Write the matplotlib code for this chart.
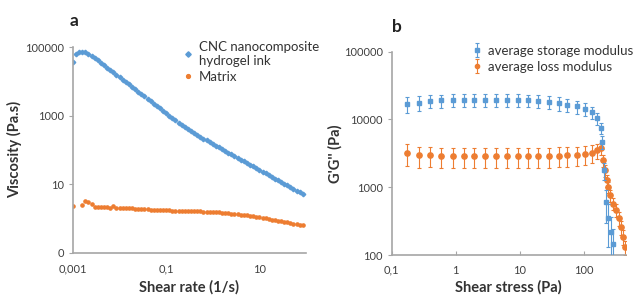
import numpy as np
import matplotlib
matplotlib.use("Agg")
import matplotlib.pyplot as plt
from matplotlib.ticker import FixedLocator, FixedFormatter, NullLocator

plt.rcParams['font.family'] = ['Lato', 'DejaVu Sans']

# ---------------- Panel a data ----------------
shear_rate = [
    0.001, 0.00117, 0.00136, 0.00158, 0.00185, 0.00215, 0.00251, 0.00293, 0.00341, 0.00398,
    0.00464, 0.00541, 0.00631, 0.00736, 0.00858,
    0.01, 0.0117, 0.0136, 0.0158, 0.0185, 0.0215, 0.0251, 0.0293, 0.0341, 0.0398,
    0.0464, 0.0541, 0.0631, 0.0736, 0.0858,
    0.1, 0.117, 0.136, 0.158, 0.185, 0.215, 0.251, 0.293, 0.341, 0.398,
    0.464, 0.541, 0.631, 0.736, 0.858,
    1.0, 1.17, 1.36, 1.58, 1.85, 2.15, 2.51, 2.93, 3.41, 3.98,
    4.64, 5.41, 6.31, 7.36, 8.58,
    10.0, 11.7, 13.6, 15.8, 18.5, 21.5, 25.1, 29.3, 34.1, 39.8,
    46.4, 54.1, 63.1, 73.6, 85.8,
]
visc_cnc = [
    36500, 64000, 71500, 73000, 70000, 64000, 56200, 47900, 40800, 34700,
    29500, 25200, 21400, 18200, 15500,
    13200, 11200, 9570, 8130, 6920, 5900, 5010, 4270, 3640, 3090,
    2630, 2240, 1910, 1620, 1380,
    1180, 1000, 851, 728, 625, 538, 466, 405, 352, 308,
    270, 238, 211, 188, 167,
    149, 132, 118, 105, 93.5, 83.4, 74.1, 65.9, 58.7, 52.3,
    46.6, 41.5, 36.9, 32.9, 29.3,
    26.1, 23.2, 20.7, 18.4, 16.4, 14.6, 13.0, 11.5, 10.3, 9.16,
    8.15, 7.26, 6.46, 5.74, 5.13,
]
visc_matrix = [
    2.35, np.nan, np.nan, 2.4, 3.2, 3.0, 2.6, 2.1, 2.15, 2.2,
    2.1, 2.15, 2.0, 2.25, 1.95,
    2.05, 2.0, 2.02, 1.98, 1.95, 1.93, 1.9, 1.88, 1.86, 1.84,
    1.82, 1.8, 1.78, 1.76, 1.74,
    1.72, 1.71, 1.7, 1.69, 1.68, 1.67, 1.66, 1.65, 1.64, 1.62,
    1.61, 1.6, 1.58, 1.57, 1.55,
    1.53, 1.51, 1.49, 1.46, 1.44, 1.41, 1.38, 1.35, 1.32, 1.29,
    1.26, 1.22, 1.19, 1.15, 1.12,
    1.08, 1.04, 1.0, 0.97, 0.93, 0.9, 0.86, 0.83, 0.8, 0.77,
    0.74, 0.71, 0.68, 0.66, 0.63,
]
a_yticks = [0.1, 10, 1000, 100000]
a_yticklabels = ["0", "10", "1000", "100000"]
a_xticks = [0.001, 0.1, 10]
a_xticklabels = ["0,001", "0,1", "10"]

# ---------------- Panel b data ----------------
stress_gp = [0.176, 0.264, 0.40, 0.60, 0.90, 1.33, 1.95, 2.9, 4.25, 6.3,
             9.3, 13.5, 19.6, 28.8, 41, 56, 78, 107, 138, 163,
             185, 195, 208, 226, 245, 267, 294]
storage = [16800, 17500, 18700, 19000, 19300, 19500, 19500, 19500, 19500, 19500,
           19300, 19000, 18800, 18000, 17300, 16500, 15500, 14300, 12700, 10400,
           7500, 4700, 1800, 600, 350, 218, 145]
storage_err = [4300, 4300, 4200, 4200, 4200, 4200, 4200, 4200, 4200, 4200,
               4100, 4000, 4000, 3900, 3800, 3600, 3400, 3000, 2600, 2000,
               1500, 1000, 500, 300, 220, 150, 100]
stress_gpp = [0.176, 0.264, 0.40, 0.60, 0.90, 1.33, 1.95, 2.9, 4.25, 6.3,
              9.3, 13.5, 19.6, 28.8, 41, 56, 78, 107, 138, 163,
              187, 205, 218, 232, 245, 261, 294, 324, 357, 387,
              411, 447]
loss = [3190, 2950, 2950, 2900, 2860, 2850, 2850, 2850, 2850, 2850,
        2860, 2870, 2880, 2900, 2920, 2950, 3000, 3050, 3200, 3500,
        3750, 2490, 1780, 1270, 1010, 763, 575, 459, 347, 261,
        186, 132]
loss_err = [1100, 1000, 950, 950, 950, 950, 950, 950, 950, 950,
            950, 950, 950, 950, 950, 950, 950, 950, 950, 900,
            800, 500, 350, 250, 200, 150, 120, 100, 80, 60,
            45, 30]
b_yticks = [100, 1000, 10000, 100000]
b_yticklabels = ["100", "1000", "10000", "100000"]
b_xticks = [0.1, 1, 10, 100]
b_xticklabels = ["0,1", "1", "10", "100"]

BLUE = "#5B9BD5"
ORANGE = "#ED7D31"
AXC = "#a6a6a6"
TXT = "#404040"

fig = plt.figure(figsize=(6.4, 2.98), dpi=100)
axa = fig.add_axes([0.114, 0.152, 0.364, 0.69])
axb = fig.add_axes([0.612, 0.144, 0.366, 0.683])

def style(ax):
    for s in ("top", "right"):
        ax.spines[s].set_visible(False)
    for s in ("left", "bottom"):
        ax.spines[s].set_color(AXC)
        ax.spines[s].set_linewidth(1.2)
    ax.tick_params(colors=AXC, labelcolor=TXT, labelsize=8, width=0.8)

# ---- panel a ----
axa.set_xscale("log")
axa.set_yscale("log")
axa.plot(shear_rate, visc_cnc, linestyle="none", marker="D", ms=2.3,
         color=BLUE, label="CNC nanocomposite\nhydrogel ink")
axa.plot(shear_rate, visc_matrix, linestyle="none", marker="o", ms=2.3,
         color=ORANGE, label="Matrix")
axa.set_xlim(0.001, 100)
axa.set_ylim(0.1, 100000)
style(axa)
axa.yaxis.set_major_locator(FixedLocator(a_yticks))
axa.yaxis.set_major_formatter(FixedFormatter(a_yticklabels))
axa.yaxis.set_minor_locator(NullLocator())
axa.xaxis.set_major_locator(FixedLocator(a_xticks))
axa.xaxis.set_major_formatter(FixedFormatter(a_xticklabels))
axa.xaxis.set_minor_locator(NullLocator())
axa.tick_params(axis="x", length=0, pad=8)
axa.tick_params(axis="y", length=3, direction="out")
axa.set_xlabel("Shear rate (1/s)", fontsize=10.5, fontweight="bold", color="#333333", labelpad=4)
axa.set_ylabel("Viscosity (Pa.s)", fontsize=10.5, fontweight="bold", color="#333333", labelpad=2)
leg = axa.legend(loc="upper left", bbox_to_anchor=(0.455, 1.055), frameon=False,
                 fontsize=9.5, handlelength=0.6, handletextpad=0.5, markerscale=1.2,
                 labelspacing=0.3, borderaxespad=0)
for t in leg.get_texts():
    t.set_color("#333333")
fig.text(0.109, 0.93, "a", fontsize=12.5, fontweight="bold", color="#222222", ha="left", va="center")

# ---- panel b ----
axb.set_xscale("log")
axb.set_yscale("log")
axb.errorbar(stress_gp, storage, yerr=storage_err, fmt="s", ms=3, color=BLUE,
             ecolor=BLUE, elinewidth=0.8, capsize=1.5, capthick=0.8,
             label="average storage modulus", zorder=3)
axb.errorbar(stress_gpp, loss, yerr=loss_err, fmt="o", ms=3.8, color=ORANGE,
             ecolor=ORANGE, elinewidth=0.8, capsize=1.5, capthick=0.8,
             label="average loss modulus", zorder=2)
axb.set_xlim(0.1, 460)
axb.set_ylim(100, 100000)
style(axb)
axb.yaxis.set_major_locator(FixedLocator(b_yticks))
axb.yaxis.set_major_formatter(FixedFormatter(b_yticklabels))
axb.yaxis.set_minor_locator(NullLocator())
axb.xaxis.set_major_locator(FixedLocator(b_xticks))
axb.xaxis.set_major_formatter(FixedFormatter(b_xticklabels))
axb.xaxis.set_minor_locator(NullLocator())
axb.tick_params(axis="x", length=3, direction="in", pad=7)
axb.tick_params(axis="y", length=3, direction="out")
axb.set_xlabel("Shear stress (Pa)", fontsize=10.5, fontweight="bold", color="#333333", labelpad=3)
axb.set_ylabel("G'G'' (Pa)", fontsize=10.5, fontweight="bold", color="#333333", labelpad=1)
legb = axb.legend(loc="upper left", bbox_to_anchor=(0.325, 1.06), frameon=False,
                  fontsize=9.5, handlelength=0.6, handletextpad=0.5, markerscale=0.8,
                  labelspacing=0.3, borderaxespad=0)
for t in legb.get_texts():
    t.set_color("#333333")
fig.text(0.613, 0.91, "b", fontsize=12.5, fontweight="bold", color="#222222", ha="left", va="center")

fig.savefig("out.png", dpi=100)
